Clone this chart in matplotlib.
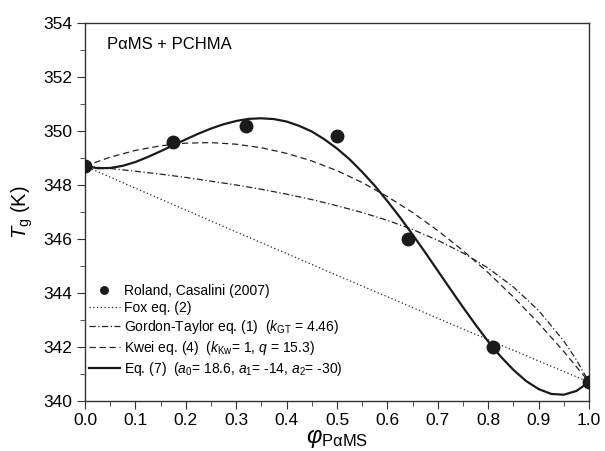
import numpy as np
import matplotlib
matplotlib.use("Agg")
import matplotlib.pyplot as plt
from matplotlib.ticker import MultipleLocator

plt.rcParams['font.family'] = ['Liberation Sans', 'DejaVu Sans']
plt.rcParams['mathtext.fontset'] = 'custom'
plt.rcParams['mathtext.rm'] = 'Liberation Sans'
plt.rcParams['mathtext.it'] = 'Liberation Sans:italic'

# measured points (Roland, Casalini 2007)
phi_pts = [0.0, 0.175, 0.32, 0.50, 0.64, 0.81, 1.0]
tg_pts = [348.7, 349.6, 350.2, 349.8, 346.0, 342.0, 340.7]

# Fox eq. (2)
phi_fox = [0.0, 0.1, 0.2, 0.3, 0.4, 0.5, 0.6, 0.7, 0.8, 0.9, 1.0]
tg_fox = [348.70, 347.88, 347.07, 346.26, 345.46, 344.65, 343.86, 343.06, 342.27, 341.48, 340.70]

# Gordon-Taylor eq. (1)
phi_gt = [0.0, 0.05, 0.1, 0.15, 0.2, 0.25, 0.3, 0.35, 0.4, 0.45, 0.5,
          0.55, 0.6, 0.65, 0.7, 0.75, 0.8, 0.85, 0.9, 0.95, 0.975, 1.0]
tg_gt = [348.70, 348.61, 348.51, 348.40, 348.28, 348.14, 348.00, 347.84, 347.66, 347.46, 347.23,
         346.98, 346.69, 346.35, 345.95, 345.48, 344.92, 344.22, 343.35, 342.22, 341.52, 340.70]

# Kwei eq. (4)
phi_kw = [0.0, 0.05, 0.1, 0.15, 0.2, 0.25, 0.3, 0.35, 0.4, 0.45, 0.5,
          0.55, 0.6, 0.65, 0.7, 0.75, 0.8, 0.85, 0.9, 0.95, 1.0]
tg_kw = [348.70, 349.03, 349.28, 349.45, 349.55, 349.57, 349.51, 349.38, 349.17, 348.89, 348.53,
         348.09, 347.57, 346.98, 346.31, 345.57, 344.75, 343.85, 342.88, 341.83, 340.70]

# Eq. (7)
phi_e7 = [0.0, 0.025, 0.05, 0.075, 0.1, 0.125, 0.15, 0.175, 0.2, 0.225, 0.25,
          0.275, 0.3, 0.325, 0.35, 0.375, 0.4, 0.425, 0.45, 0.475, 0.5,
          0.525, 0.55, 0.575, 0.6, 0.625, 0.65, 0.675, 0.7, 0.725, 0.75,
          0.775, 0.8, 0.825, 0.85, 0.875, 0.9, 0.925, 0.95, 0.975, 1.0]
tg_e7 = [348.70, 348.62, 348.63, 348.71, 348.85, 349.04, 349.25, 349.47, 349.69, 349.90, 350.09,
         350.25, 350.37, 350.45, 350.47, 350.44, 350.35, 350.19, 349.98, 349.69, 349.35,
         348.95, 348.48, 347.97, 347.40, 346.80, 346.16, 345.50, 344.82, 344.14, 343.47,
         342.82, 342.20, 341.64, 341.15, 340.74, 340.44, 340.26, 340.23, 340.37, 340.70]

fig = plt.figure(figsize=(6.05, 4.51), dpi=100)
ax = fig.add_axes([0.1405, 0.111, 0.8331, 0.838])

ax.plot(phi_pts, tg_pts, 'o', color='#1a1a1a', ms=9, zorder=5,
        label='Roland, Casalini (2007)')
ax.plot(phi_fox, tg_fox, color='#222222', lw=0.9, linestyle=(0, (1, 2)),
        label='Fox eq. (2)')
ax.plot(phi_gt, tg_gt, color='#222222', lw=0.9, linestyle=(0, (5, 2, 1, 2)),
        label=r'Gordon-Taylor eq. (1)  ($k_{\mathrm{GT}}$ = 4.46)')
ax.plot(phi_kw, tg_kw, color='#222222', lw=0.9, linestyle=(0, (5, 3)),
        label=r'Kwei eq. (4)  ($k_{\mathrm{Kw}}$= 1, $q$ = 15.3)')
ax.plot(phi_e7, tg_e7, color='#1a1a1a', lw=1.6,
        label=r'Eq. (7)  ($a_{0}$= 18.6, $a_{1}$= -14, $a_{2}$= -30)')

ax.set_xlim(0.0, 1.0)
ax.set_ylim(340, 354)
ax.xaxis.set_major_locator(MultipleLocator(0.1))
ax.xaxis.set_minor_locator(MultipleLocator(0.05))
ax.yaxis.set_major_locator(MultipleLocator(2))
ax.yaxis.set_minor_locator(MultipleLocator(1))
ax.xaxis.set_major_formatter(matplotlib.ticker.FormatStrFormatter('%.1f'))
ax.tick_params(which='both', direction='out', top=False, right=False,
               labelsize=12.5, color='#333333', pad=3)
ax.tick_params(which='major', length=6)
ax.tick_params(which='minor', length=3.5)
for s in ax.spines.values():
    s.set_color('#333333')
    s.set_linewidth(1.0)

ax.set_xlabel(r'$φ_{\mathrm{P\alpha MS}}$', fontsize=17, labelpad=-1)
ax.set_ylabel(r'$T_{\mathrm{g}}$ (K)', fontsize=14.5, labelpad=6)

ax.text(0.044, 0.944, 'PαMS + PCHMA', transform=ax.transAxes,
        fontsize=12, va='center', ha='left')

ax.legend(loc='lower left', bbox_to_anchor=(0.0, 0.05), frameon=False,
          fontsize=10, handlelength=2.2, handletextpad=0.3, labelspacing=0.22,
          borderaxespad=0.0, borderpad=0.3, numpoints=1, markerscale=0.6)

fig.savefig('out.png', dpi=100)
